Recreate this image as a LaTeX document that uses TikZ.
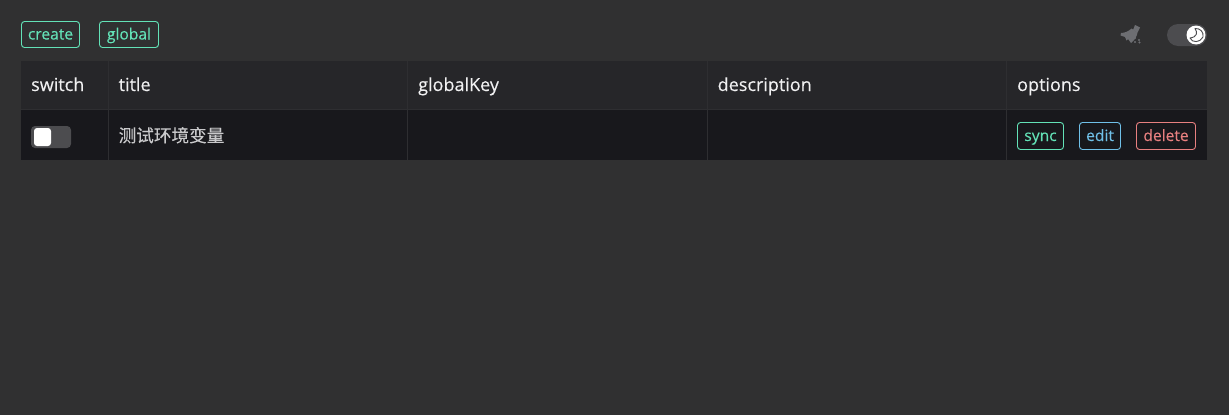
\documentclass[tikz,border=0pt]{standalone}
\usepackage{fontspec}
\setmainfont[FakeBold=0.25]{Open Sans}
\newfontfamily\cjk[FakeBold=0.1]{Noto Sans CJK SC}
\definecolor{pagebg}{HTML}{303031}
\definecolor{headbg}{HTML}{262629}
\definecolor{rowbg}{HTML}{18181C}
\definecolor{rule}{HTML}{2E2E31}
\definecolor{heading}{HTML}{F0F0F1}
\definecolor{bodytext}{HTML}{C9C9CB}
\definecolor{tgreen}{HTML}{63E2B7}
\definecolor{tblue}{HTML}{70C0E8}
\definecolor{tred}{HTML}{E88080}
\definecolor{toggle}{HTML}{4C4C4F}
\definecolor{iconc}{HTML}{6D6E72}
\tikzset{
  headtext/.style={anchor=base west,inner sep=0pt,text=heading,font=\fontsize{18}{20}\selectfont},
  celltext/.style={anchor=base west,inner sep=0pt,text=bodytext,font=\cjk\fontsize{17.6}{20}\selectfont},
  tagbox/.style={draw=#1,text=#1,line width=0.9pt,rounded corners=3pt,inner sep=0pt,font=\fontsize{15.6}{17}\selectfont},
}
\newcommand{\tagnode}[7]{\node[tagbox=#1,minimum width=#4pt,minimum height=#5pt] (#2) at (#6,#7) {\raisebox{0pt}[11pt][1pt]{#3}};}
\begin{document}
\begin{tikzpicture}[x=1pt,y=-1pt]
\useasboundingbox (0,0) rectangle (1229,415);
\fill[pagebg] (0,0) rectangle (1229,415);
\fill[headbg] (21,61) rectangle (1207,110);
\fill[rowbg] (21,110) rectangle (1207,160);
\draw[rule,line width=1pt] (21,109.5) -- (1207,109.5);
\foreach \x in {108,407,707,1006}{\draw[rule,line width=1pt] (\x+.5,61) -- (\x+.5,160);}
\tagnode{tgreen}{create}{create}{58}{26}{50.5}{34.5}
\tagnode{tgreen}{global}{global}{59}{26}{129}{34.5}
\node[headtext] (hswitch) at (31,91) {switch};
\node[headtext] (htitle) at (118.5,91) {title};
\node[headtext] (hkey) at (418,91) {globalKey};
\node[headtext] (hdesc) at (717.5,91) {description};
\node[headtext] (hopt) at (1017,91) {options};
\node[celltext] (ctitle) at (118.5,142) {测试环境变量};
\tagnode{tgreen}{sync}{sync}{46}{27}{1040.5}{136}
\tagnode{tblue}{edit}{edit}{41}{27}{1100}{136}
\tagnode{tred}{delete}{delete}{59}{27}{1166}{136}
% row switch
\fill[toggle,rounded corners=4pt] (31,126) rectangle (71,148);
\fill[white,rounded corners=3pt] (34,128) rectangle (51,146);
% top toggle
\fill[toggle,rounded corners=11pt] (1167,24) rectangle (1207,46);
\fill[white] (1196,35) circle (9.5);
\draw[toggle,line width=.9pt,line join=round] (1195,28.5) .. controls (1198,33) and (1197,37) .. (1190,38) .. controls (1192,43) and (1200,43) .. (1203,37) .. controls (1204,32) and (1200,28) .. (1195,28.5) -- cycle;
% broom icon
\fill[iconc] (1135,25) -- (1140,27.5) -- (1137.5,32.5) -- (1133,30) -- cycle;
\fill[iconc] (1131.5,28.5) -- (1137.5,32.5) .. controls (1137,36) and (1135,40) .. (1131,43) -- (1128,39) -- (1126.5,40.5) -- (1125,37) -- (1120.5,35.5) -- (1121,33) .. controls (1125,33) and (1129,31) .. (1131.5,28.5) -- cycle;
\fill[iconc] (1135,38) circle (1.2) (1139,40) circle (1.2) (1135,42) circle (1.2) (1139.5,42.5) circle (1.1);
\end{tikzpicture}
\end{document}
